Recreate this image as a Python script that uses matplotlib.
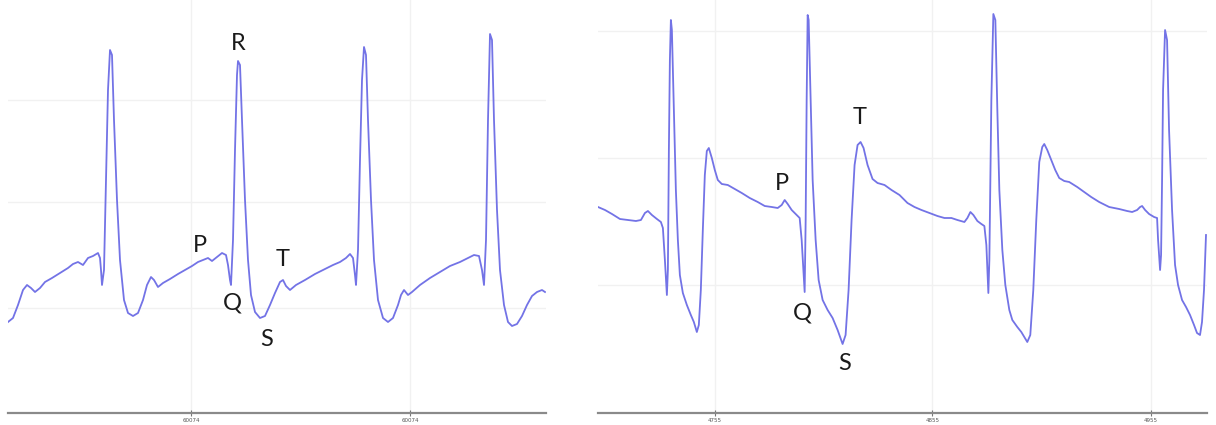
import numpy as np
import matplotlib
matplotlib.use("Agg")
import matplotlib.pyplot as plt

# ---------------------------------------------------------------
# Données (échantillons, amplitude en unités ADC)
# ---------------------------------------------------------------

# panneau gauche
left_x = [8, 13, 18, 23, 27, 31, 35, 40, 45, 52, 60, 68, 73, 78, 83, 88, 93, 98, 100, 101,
          102, 104, 106, 108, 110, 112, 114, 117, 120, 124, 128, 133, 138, 143, 147, 151, 154, 158, 163, 170,
          178, 185, 192, 198, 203, 208, 212, 217, 222, 226, 228, 230, 231, 233, 235, 237, 238, 240, 242, 245,
          248, 251, 255, 260, 265, 270, 275, 280, 283, 286, 290, 296, 305, 315, 325, 333, 340, 346, 350, 353,
          355, 356, 358, 360, 362, 364, 366, 368, 371, 374, 378, 383, 388, 393, 398, 401, 404, 408, 412, 420,
          430, 440, 450, 460, 468, 474, 479, 482, 484, 486, 488, 490, 492, 494, 497, 500, 504, 508, 512, 517,
          522, 527, 532, 537, 542, 545]
left_v = [91, 95, 108, 123, 128, 125, 121, 125, 131, 135, 140, 145, 149, 151, 148, 155, 157, 160, 155, 143,
          128, 143, 233, 323, 363, 358, 293, 213, 153, 113, 100, 97, 100, 113, 128, 136, 133, 126, 130, 134,
          139, 143, 147, 151, 153, 155, 152, 156, 160, 158, 148, 133, 128, 173, 263, 338, 352, 348, 293, 213,
          153, 118, 101, 95, 97, 108, 120, 131, 133, 127, 123, 128, 133, 139, 144, 148, 151, 155, 159, 155,
          138, 128, 163, 253, 333, 366, 358, 293, 213, 153, 113, 95, 91, 95, 108, 118, 123, 118, 121, 128,
          135, 141, 147, 151, 155, 158, 157, 143, 128, 173, 293, 379, 373, 293, 203, 143, 108, 91, 87, 89,
          97, 108, 117, 121, 123, 121]
left_ticks = [191, 410]
left_ticklabels = ["60074", "60074"]
left_grid_y = [105, 211, 313]

# panneau droit
right_x = [8, 15, 22, 30, 38, 46, 51, 55, 58, 62, 67, 71, 73, 75, 77, 78, 79, 80, 81, 82,
           84, 86, 88, 90, 93, 97, 101, 104, 107, 109, 111, 113, 115, 117, 119, 122, 125, 128, 132, 138,
           145, 152, 160, 168, 175, 182, 188, 192, 195, 198, 202, 208, 210, 212, 214, 215, 216, 217, 218, 219,
           221, 223, 226, 229, 233, 238, 243, 248, 253, 256, 259, 262, 265, 268, 271, 274, 278, 283, 288, 295,
           302, 310, 318, 325, 332, 340, 348, 355, 362, 368, 375, 378, 381, 384, 388, 392, 395, 397, 399, 400,
           401, 402, 404, 406, 408, 410, 413, 416, 420, 423, 428, 432, 435, 438, 441, 444, 447, 450, 453, 455,
           458, 462, 466, 470, 475, 480, 488, 495, 502, 510, 520, 530, 538, 543, 548, 551, 553, 556, 560, 565,
           568, 569, 571, 572, 573, 574, 576, 578, 580, 583, 586, 589, 593, 597, 601, 605, 608, 611, 613, 615,
           617]
right_v = [206, 203, 199, 194, 193, 192, 193, 200, 202, 198, 194, 191, 185, 153, 118, 143, 263, 353, 393, 383,
           303, 223, 173, 138, 120, 108, 98, 91, 81, 88, 123, 183, 238, 262, 265, 255, 243, 233, 229, 228,
           224, 220, 215, 211, 207, 206, 205, 208, 213, 209, 203, 197, 195, 173, 138, 121, 193, 313, 398, 393,
           313, 233, 173, 133, 113, 103, 95, 83, 69, 78, 123, 193, 248, 268, 271, 265, 248, 234, 230, 228,
           223, 218, 210, 206, 203, 200, 197, 195, 195, 193, 191, 195, 201, 198, 192, 189, 187, 168, 120, 153,
           233, 313, 399, 393, 303, 223, 163, 128, 103, 93, 86, 81, 76, 71, 78, 123, 193, 251, 266, 269,
           263, 253, 243, 235, 232, 231, 226, 221, 216, 211, 206, 204, 202, 201, 203, 206, 207, 203, 199, 196,
           195, 173, 143, 158, 233, 323, 383, 373, 283, 203, 148, 128, 113, 106, 98, 88, 80, 78, 91, 123,
           178]
right_ticks = [125, 343, 562]
right_ticklabels = ["4755", "4855", "4955"]
right_grid_y = [128, 255, 382]

# annotations des ondes (lettre, x, y)
left_labels = [("R", 238, 370), ("P", 200, 168), ("Q", 232, 110), ("T", 283, 153), ("S", 267, 73)]
right_labels = [("T", 270, 296), ("P", 192, 230), ("Q", 213, 100), ("S", 255, 50)]

ecg_color = "#7373e6"

# ---------------------------------------------------------------
# Figure
# ---------------------------------------------------------------
W, H = 1216, 425
fig = plt.figure(figsize=(W / 100, H / 100), dpi=100)
fig.patch.set_facecolor("white")

ax_left = fig.add_axes([8 / W, 12 / H, 538 / W, 413 / H])
ax_right = fig.add_axes([598 / W, 12 / H, 609 / W, 413 / H])

panels = [
    (ax_left, left_x, left_v, left_ticks, left_ticklabels, left_grid_y, left_labels),
    (ax_right, right_x, right_v, right_ticks, right_ticklabels, right_grid_y, right_labels),
]

for ax, x, v, ticks, ticklabels, grid_y, labels in panels:
    # grille très claire
    for gy in grid_y:
        ax.axhline(gy, color="#f1f1f1", lw=1, zorder=0)
    for tx in ticks:
        ax.axvline(tx, color="#f1f1f1", lw=1, zorder=0)

    ax.plot(x, v, color=ecg_color, lw=1.3, zorder=2)

    for letter, lx, ly in labels:
        ax.text(lx, ly, letter, fontsize=17, family=["Lato", "DejaVu Sans"],
                color="#1a1a1a", ha="center", va="center")

    ax.set_xlim(x[0], x[-1] + 1)
    ax.set_ylim(0, 413)
    ax.set_yticks([])
    ax.set_xticks(ticks)
    ax.set_xticklabels(ticklabels)
    ax.tick_params(axis="x", direction="inout", length=5, width=0.8, color="#777777",
                   labelsize=4, labelcolor="#555555", pad=1)
    for side in ["top", "left", "right"]:
        ax.spines[side].set_visible(False)
    ax.spines["bottom"].set_color("#8a8a8a")
    ax.spines["bottom"].set_linewidth(1.6)
    ax.set_facecolor("none")

plt.savefig("out.png", dpi=100)
plt.close()
